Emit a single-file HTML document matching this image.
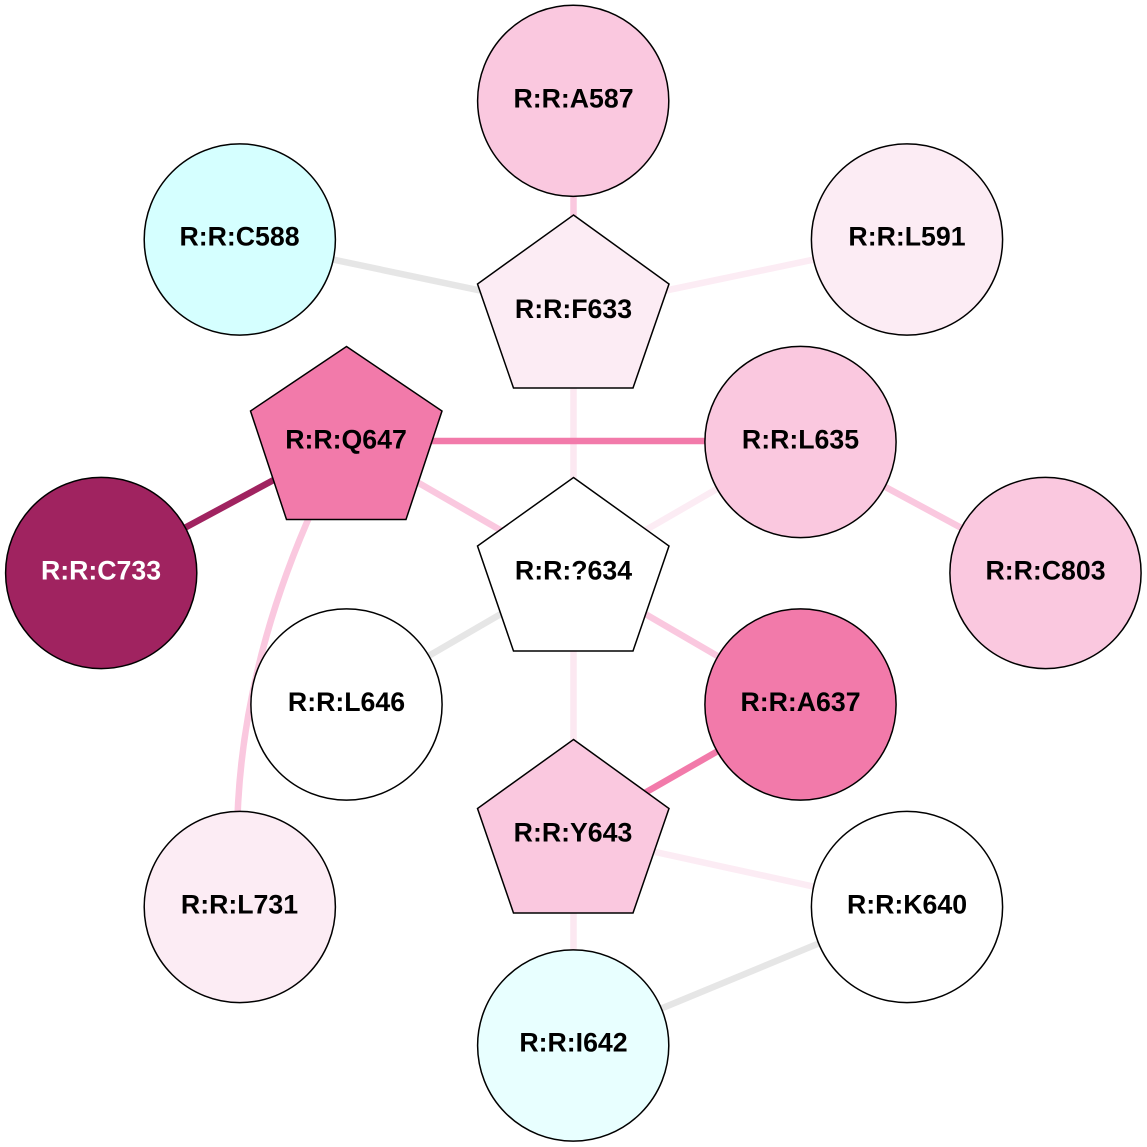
<!DOCTYPE html>
<html>
<head>
<meta charset="utf-8">
<style>
html,body{margin:0;padding:0;background:#fff;width:1147px;height:1147px;overflow:hidden}
svg{display:block}
text{font-family:"Liberation Sans",Arial,sans-serif;font-size:26.7px;font-weight:bold;text-anchor:middle;fill:#000}
circle,polygon{stroke:#000;stroke-width:1.5}
line,path.e{fill:none;stroke-width:6.5}
</style>
</head>
<body>
<svg width="1147" height="1147" viewBox="0 0 1147 1147" xmlns="http://www.w3.org/2000/svg">
<line x1="573.500" y1="100" x2="573.500" y2="310" stroke="#fac8df"/>
<line x1="240" y1="240" x2="573" y2="310" stroke="#e6e6e6"/>
<line x1="907" y1="240" x2="573" y2="310" stroke="#fcecf4"/>
<line x1="573.500" y1="310" x2="573.500" y2="572" stroke="#fce8f1"/>
<line x1="346" y1="441" x2="800" y2="441" stroke="#f27aaa"/>
<line x1="346" y1="441" x2="101" y2="573" stroke="#a02360"/>
<line x1="346" y1="441" x2="573" y2="572" stroke="#fac8df"/>
<path class="e" d="M346 441 Q219 680 240 907" stroke="#fac8df"/>
<line x1="800" y1="441" x2="573" y2="572" stroke="#fcecf4"/>
<line x1="800" y1="441" x2="1045" y2="573" stroke="#fac8df"/>
<line x1="573" y1="572" x2="346" y2="704" stroke="#e6e6e6"/>
<line x1="573" y1="572" x2="800" y2="704" stroke="#fac8df"/>
<line x1="573.500" y1="572" x2="573.500" y2="834" stroke="#fce8f1"/>
<line x1="800" y1="704" x2="573" y2="834" stroke="#f27aaa"/>
<line x1="573" y1="834" x2="907" y2="907" stroke="#fcecf4"/>
<line x1="573.500" y1="834" x2="573.500" y2="1045" stroke="#fce8f1"/>
<line x1="907" y1="907" x2="573" y2="1045" stroke="#e6e6e6"/>

<circle cx="573.200" cy="100.800" r="95.600" fill="#fac8df"/>
<circle cx="239.800" cy="239.500" r="95.600" fill="#d5ffff"/>
<circle cx="907" cy="239.500" r="95.600" fill="#fcecf4"/>
<polygon points="573.500,215 669,284 633,388 513.500,388 477.500,284" fill="#fcecf4"/>
<polygon points="346.500,346.500 442,411 406,519.500 286.500,519.500 250.500,411" fill="#f27aaa"/>
<circle cx="800.500" cy="442" r="95.600" fill="#fac8df"/>
<circle cx="101.200" cy="573" r="95.600" fill="#a02360"/>
<polygon points="573.500,477.500 669,546 633,651 513.500,651 477.500,546" fill="#ffffff"/>
<circle cx="1045.500" cy="573" r="95.600" fill="#fac8df"/>
<circle cx="346.500" cy="704.500" r="95.600" fill="#ffffff"/>
<circle cx="800.500" cy="704.500" r="95.600" fill="#f27aaa"/>
<polygon points="573.500,739.500 669,808.500 633,913 513.500,913 477.500,808.500" fill="#fac8df"/>
<circle cx="239.800" cy="907" r="95.600" fill="#fcecf4"/>
<circle cx="907" cy="907" r="95.600" fill="#ffffff"/>
<circle cx="573.200" cy="1045.500" r="95.600" fill="#e8ffff"/>

<text x="573.500" y="107.500">R:R:A587</text>
<text x="239.500" y="245.500">R:R:C588</text>
<text x="907" y="245.500">R:R:L591</text>
<text x="573.500" y="318">R:R:F633</text>
<text x="346" y="448.500">R:R:Q647</text>
<text x="800.500" y="448.500">R:R:L635</text>
<text x="101" y="579.500" style="fill:#fff">R:R:C733</text>
<text x="573.500" y="579.500">R:R:?634</text>
<text x="1045.500" y="579.500">R:R:C803</text>
<text x="346.500" y="711">R:R:L646</text>
<text x="800.500" y="711">R:R:A637</text>
<text x="573" y="841.700">R:R:Y643</text>
<text x="239.500" y="913.500">R:R:L731</text>
<text x="907" y="913.500">R:R:K640</text>
<text x="573.500" y="1051.500">R:R:I642</text>
</svg>
</body>
</html>
